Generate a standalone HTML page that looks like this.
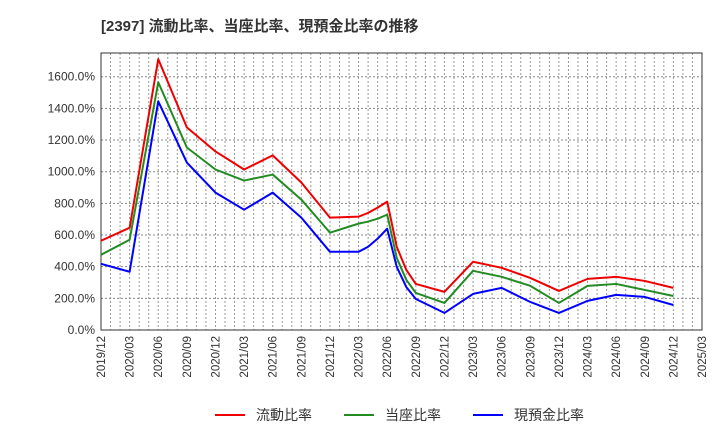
<!DOCTYPE html>
<html><head><meta charset="utf-8"><style>
body{margin:0;background:#fff;}
svg text{font-family:"Liberation Sans","Noto Sans CJK JP",sans-serif;}
</style></head><body>
<svg id="c" width="720" height="440" xmlns="http://www.w3.org/2000/svg">
<text x="101" y="31" font-size="15" font-weight="bold" fill="#333">[2397]  流動比率、当座比率、現預金比率の推移</text>
<g id="grid"></g><g id="axes"></g><g id="series"></g>
<g>
<line x1="215" y1="415" x2="245" y2="415" stroke="#e00" stroke-width="2"/>
<text x="256" y="420" font-size="14" fill="#333">流動比率</text>
<line x1="344" y1="415" x2="374" y2="415" stroke="#228b22" stroke-width="2"/>
<text x="385" y="420" font-size="14" fill="#333">当座比率</text>
<line x1="473" y1="415" x2="503" y2="415" stroke="#00f" stroke-width="2"/>
<text x="514" y="420" font-size="14" fill="#333">現預金比率</text>
</g>
</svg>
<script>
const dates=["2019/12","2020/03","2020/06","2020/09","2020/12","2021/03","2021/06","2021/09","2021/12","2022/03","2022/04","2022/05","2022/06","2022/07","2022/08","2022/09","2022/12","2023/03","2023/06","2023/09","2023/12","2024/03","2024/06","2024/09","2024/12"];
const currentRatio=[564,646,1711,1280,1128,1014,1103,932,710,716,740,773,811,526,380,291,241,431,393,329,247,323,336,310,266];
const quickRatio=[475,570,1565,1153,1014,944,982,824,615,672,685,703,729,456,317,234,171,374,336,279,171,279,291,253,215];
const cashRatio=[418,368,1445,1058,868,760,868,710,494,494,526,577,640,399,272,196,108,228,266,177,108,184,222,209,158];
const xTicks=["2019/12","2020/03","2020/06","2020/09","2020/12","2021/03","2021/06","2021/09","2021/12","2022/03","2022/06","2022/09","2022/12","2023/03","2023/06","2023/09","2023/12","2024/03","2024/06","2024/09","2024/12","2025/03"];
const yTicks=[0,200,400,600,800,1000,1200,1400,1600];
const L=101,R=702,T=53,B=330,YMAX=1750;
const mon=s=>{const[a,b]=s.split('/').map(Number);return (a-2019)*12+b-12;};
const x=s=>L+mon(s)*(R-L)/63;
const y=v=>B-v*(B-T)/YMAX;
const NS="http://www.w3.org/2000/svg";
function mk(p,t,a){const e=document.createElementNS(NS,t);for(const k in a)e.setAttribute(k,a[k]);p.appendChild(e);return e;}
const g=document.getElementById('grid'),ax=document.getElementById('axes'),se=document.getElementById('series');
for(let m=1;m<63;m++){const l=mk(g,'line',{x1:L+m*(R-L)/63,x2:L+m*(R-L)/63,y1:T,y2:B,stroke:'#999','stroke-dasharray':'2,2','stroke-width':1});

}
yTicks.forEach(v=>{if(v>0){const l=mk(g,'line',{x1:L,x2:R,y1:y(v),y2:y(v),stroke:'#888','stroke-dasharray':'2,2'});

}
const t=mk(ax,'text',{x:L-6,y:y(v)+4,'text-anchor':'end','font-size':12,fill:'#333'});t.textContent=v.toFixed(1)+'%';

});
xTicks.forEach(s=>{const t=mk(ax,'text',{transform:`translate(${x(s)+4},336) rotate(-90)`,'text-anchor':'end','font-size':11.5,fill:'#333'});t.textContent=s;

});
const fr=mk(ax,'rect',{x:L,y:T,width:R-L,height:B-T,fill:'none',stroke:'#333','stroke-width':1});


[[currentRatio,'#e00','current-ratio-line'],[quickRatio,'#228b22','quick-ratio-line'],[cashRatio,'#00f','cash-ratio-line']].forEach(([d,c,n])=>{
const p=mk(se,'polyline',{points:d.map((v,i)=>x(dates[i])+','+y(v)).join(' '),fill:'none',stroke:c,'stroke-width':2,'stroke-linejoin':'round'});

});
</script>
</body></html>
